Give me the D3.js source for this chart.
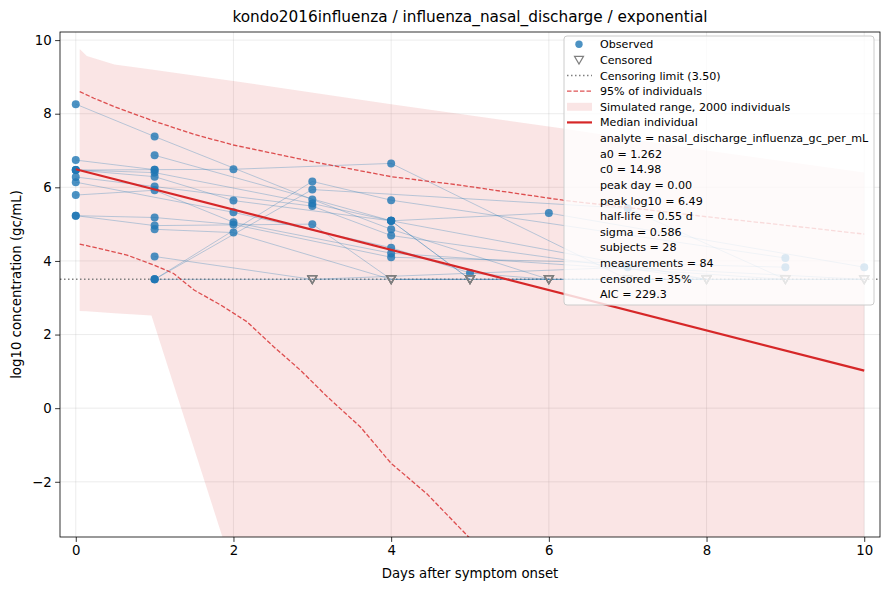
<!DOCTYPE html>
<html>
<head>
<meta charset="utf-8">
<script src="https://cdn.jsdelivr.net/npm/d3@7"></script>
<style>
    body { margin: 0; background: #fff; }
    svg { display: block; font-family: "DejaVu Sans", sans-serif; }
</style>
</head>
<body>
<svg id="chart" width="889" height="590"></svg>
<script>
// Viral load per subject, exponential decay fit.
// Censored values sit on the detection limit.

const censorLimit = 3.5;

// [day, log10 value, censored]
const subjects = [
    [[0, 8.26, 0], [1, 7.38, 0], [3, 5.67, 0], [4, 4.86, 0], [6, 3.5, 1]],
    [[0, 6.74, 0], [1, 6.48, 0], [2, 6.49, 0], [4, 6.65, 0], [7, 3.5, 1]],
    [[0, 6.47, 0], [1, 6.40, 0], [3, 5.56, 0], [4, 5.09, 0], [6, 5.30, 0], [10, 3.83, 0]],
    [[0, 6.47, 0], [1, 6.29, 0], [2, 5.64, 0], [4, 5.09, 0], [5, 3.5, 1]],
    [[0, 6.28, 0], [1, 6.02, 0], [3, 5.49, 0], [4, 4.69, 0], [8, 3.5, 1]],
    [[0, 6.14, 0], [2, 5.32, 0], [4, 4.36, 0], [5, 3.67, 0], [6, 3.5, 1]],
    [[0, 5.79, 0], [1, 5.92, 0], [2, 5.05, 0], [4, 4.21, 0], [9, 3.5, 1]],
    [[0, 5.23, 0], [1, 5.18, 0], [2, 4.99, 0], [4, 4.10, 0], [9, 3.83, 0]],
    [[0, 5.23, 0], [1, 4.96, 0], [3, 5.00, 0], [4, 3.5, 1], [5, 3.5, 1]],
    [[1, 6.87, 0], [4, 5.09, 0], [8, 3.5, 1]],
    [[1, 4.86, 0], [2, 4.77, 0], [4, 3.5, 1], [8, 3.5, 1]],
    [[1, 4.12, 0], [3, 3.5, 1], [7, 3.83, 0], [10, 3.5, 1]],
    [[1, 3.5, 0], [3, 5.94, 0], [7, 5.43, 0], [9, 3.5, 1]],
    [[1, 3.5, 0], [3, 6.16, 0], [4, 5.65, 0], [9, 4.08, 0]],
    [[0, 6.47, 0], [1, 6.48, 0]],
    [[4, 5.09, 0], [5, 3.5, 1]],
    [[1, 3.5, 0], [3, 3.5, 1]],
    [[4, 3.5, 1], [6, 3.5, 1]],
    [[3, 3.5, 1], [4, 3.5, 1]],
    [[5, 3.5, 1], [8, 3.5, 1]],
    [[6, 3.5, 1], [9, 3.5, 1]],
    [[8, 3.5, 1], [10, 3.5, 1]],
    [[9, 3.5, 1], [10, 3.5, 1]],
    [[5, 3.5, 1]],
    [[6, 3.5, 1]],
    [[10, 3.5, 1]],
    [[4, 3.5, 1]],
    [[3, 3.5, 1]],
];

// simulated envelope, 2000 individuals
const bandDays = [0.05, 0.14, 0.49, 0.96, 1.86, 2, 4, 6.18, 8, 10];
const bandUpper = [9.76, 9.57, 9.34, 9.2, 8.93, 8.89, 8.26, 7.6, 7.0, 6.4];
const bandLower = [2.64, 2.63, 2.58, 2.52, -3.5, -4.4, -6, -6, -6, -6];

const upper95 = [
    [0.05, 8.60], [0.23, 8.42], [0.49, 8.19], [0.99, 7.80], [1.5, 7.44],
    [2.0, 7.15], [2.51, 6.92], [3.02, 6.69], [4.0, 6.29], [4.87, 6.06],
    [6.18, 5.65], [7, 5.45], [8, 5.2], [9, 4.97], [10, 4.73],
];
const lower95 = [
    [0.05, 4.46], [0.65, 4.16], [0.99, 3.89], [1.24, 3.66], [1.5, 3.21],
    [1.84, 2.80], [2.17, 2.35], [2.51, 1.67], [2.85, 1.03], [3.19, 0.31],
    [3.61, -0.51], [4.0, -1.50], [4.45, -2.32], [4.96, -3.45], [5.3, -4.2],
];
const median = [[0, 6.49], [10, 1.02]];

const xTicks = [0, 2, 4, 6, 8, 10];
const yTicks = [-2, 0, 2, 4, 6, 8, 10];

const fitText = [
    'analyte = nasal_discharge_influenza_gc_per_mL',
    'a0 = 1.262',
    'c0 = 14.98',
    'peak day = 0.00',
    'peak log10 = 6.49',
    'half-life = 0.55 d',
    'sigma = 0.586',
    'subjects = 28',
    'measurements = 84',
    'censored = 35%',
    'AIC = 229.3',
];

const red = '#d62728';
const blue = '#1f77b4';
const grey = '#7f7f7f';

const svg = d3.select('#chart');
const margin = { top: 32, right: 9, bottom: 53, left: 60 };
const width = 889 - margin.left - margin.right;
const height = 590 - margin.top - margin.bottom;

const x = d3.scaleLinear().domain([-0.2, 10.2]).range([0, width]);
const y = d3.scaleLinear().domain([-3.5, 10.22]).range([height, 0]);

svg.append('defs').append('clipPath')
        .attr('id', 'plot-clip')
    .append('rect')
        .attr('width', width)
        .attr('height', height);

const g = svg.append('g')
    .attr('transform', `translate(${margin.left},${margin.top})`);

// grid
g.append('g').selectAll('line').data(xTicks)
    .enter().append('line')
        .attr('x1', d => x(d)).attr('x2', d => x(d))
        .attr('y1', 0).attr('y2', height)
        .attr('stroke', '#b0b0b0').attr('stroke-opacity', 0.3).attr('stroke-width', 0.8);
g.append('g').selectAll('line').data(yTicks)
    .enter().append('line')
        .attr('y1', d => y(d)).attr('y2', d => y(d))
        .attr('x1', 0).attr('x2', width)
        .attr('stroke', '#b0b0b0').attr('stroke-opacity', 0.3).attr('stroke-width', 0.8);

const plot = g.append('g').attr('clip-path', 'url(#plot-clip)');

const band = d3.area()
    .x((d, i) => x(bandDays[i]))
    .y0((d, i) => y(bandLower[i]))
    .y1((d, i) => y(bandUpper[i]));

plot.append('path')
    .datum(bandDays)
    .attr('d', band)
    .attr('fill', red)
    .attr('fill-opacity', 0.12);

const line = d3.line().x(d => x(d[0])).y(d => y(d[1]));

plot.append('line')
    .attr('x1', 0).attr('x2', width)
    .attr('y1', y(censorLimit)).attr('y2', y(censorLimit))
    .attr('stroke', grey)
    .attr('stroke-width', 1.5)
    .attr('stroke-dasharray', '1.5,2.5');

plot.append('g').selectAll('path').data(subjects.filter(s => s.length > 1))
    .enter().append('path')
        .attr('d', line)
        .attr('fill', 'none')
        .attr('stroke', blue)
        .attr('stroke-opacity', 0.3)
        .attr('stroke-width', 1);

const allPoints = subjects.flat();

plot.append('g').selectAll('circle').data(allPoints.filter(d => !d[2]))
    .enter().append('circle')
        .attr('cx', d => x(d[0]))
        .attr('cy', d => y(d[1]))
        .attr('r', 4)
        .attr('fill', blue)
        .attr('fill-opacity', 0.8);

const triangle = 'M-4.5,-3.6L4.5,-3.6L0,4.2Z';

plot.append('g').selectAll('path').data(allPoints.filter(d => d[2]))
    .enter().append('path')
        .attr('d', triangle)
        .attr('transform', d => `translate(${x(d[0])},${y(d[1])})`)
        .attr('fill', 'none')
        .attr('stroke', grey)
        .attr('stroke-width', 1.2);

plot.selectAll('.pi').data([upper95, lower95])
    .enter().append('path')
        .attr('class', 'pi')
        .attr('d', line)
        .attr('fill', 'none')
        .attr('stroke', red)
        .attr('stroke-opacity', 0.8)
        .attr('stroke-width', 1.3)
        .attr('stroke-dasharray', '4.5,2');

plot.append('path')
    .datum(median)
    .attr('d', line)
    .attr('fill', 'none')
    .attr('stroke', red)
    .attr('stroke-width', 2.2);

// axes
const xAxis = g.append('g')
    .attr('transform', `translate(0,${height})`)
    .call(d3.axisBottom(x).tickValues(xTicks).tickSize(4.9).tickPadding(3.5));
const yAxis = g.append('g')
    .call(d3.axisLeft(y).tickValues(yTicks).tickSize(4.9).tickPadding(3.5)
        .tickFormat(d => (d < 0 ? '\u2212' + Math.abs(d) : d)));

[xAxis, yAxis].forEach(a => {
    a.select('.domain').remove();
    a.selectAll('text').attr('font-size', 13.3).attr('fill', '#000')
        .attr('font-family', '"DejaVu Sans", sans-serif');
    a.selectAll('line').attr('stroke', '#000').attr('stroke-width', 0.8);
});

g.append('rect')
    .attr('width', width)
    .attr('height', height)
    .attr('fill', 'none')
    .attr('stroke', '#000')
    .attr('stroke-width', 0.8);

svg.append('text')
    .attr('x', margin.left + width / 2)
    .attr('y', 22)
    .attr('text-anchor', 'middle')
    .attr('font-size', 15.3)
    .text('kondo2016influenza / influenza_nasal_discharge / exponential');

svg.append('text')
    .attr('x', margin.left + width / 2)
    .attr('y', 578)
    .attr('text-anchor', 'middle')
    .attr('font-size', 13.3)
    .text('Days after symptom onset');

svg.append('text')
    .attr('transform', `translate(21,${margin.top + height / 2}) rotate(-90)`)
    .attr('text-anchor', 'middle')
    .attr('font-size', 13.3)
    .text('log10 concentration (gc/mL)');

// legend
const legend = svg.append('g').attr('transform', 'translate(564,36)');
legend.append('rect')
    .attr('width', 310)
    .attr('height', 269)
    .attr('rx', 3)
    .attr('fill', '#fff')
    .attr('fill-opacity', 0.8)
    .attr('stroke', '#cccccc')
    .attr('stroke-width', 1);

const rowY = i => 8.3 + i * 15.625;
const entries = [
    'Observed',
    'Censored',
    `Censoring limit (${censorLimit.toFixed(2)})`,
    '95% of individuals',
    'Simulated range, 2000 individuals',
    'Median individual',
].concat(fitText);

legend.selectAll('text').data(entries)
    .enter().append('text')
        .attr('x', 36)
        .attr('y', (d, i) => rowY(i) + 4)
        .attr('font-size', 11.1)
        .text(d => d);

legend.append('circle')
    .attr('cx', 15).attr('cy', rowY(0)).attr('r', 3.7)
    .attr('fill', blue).attr('fill-opacity', 0.8);
legend.append('path')
    .attr('d', triangle)
    .attr('transform', `translate(15,${rowY(1)})`)
    .attr('fill', 'none').attr('stroke', grey).attr('stroke-width', 1.2);
legend.append('line')
    .attr('x1', 3).attr('x2', 28).attr('y1', rowY(2)).attr('y2', rowY(2))
    .attr('stroke', grey).attr('stroke-width', 1.5).attr('stroke-dasharray', '1.5,2.5');
legend.append('line')
    .attr('x1', 3).attr('x2', 28).attr('y1', rowY(3)).attr('y2', rowY(3))
    .attr('stroke', red).attr('stroke-opacity', 0.8).attr('stroke-width', 1.3)
    .attr('stroke-dasharray', '4.5,2');
legend.append('rect')
    .attr('x', 3).attr('y', rowY(4) - 4).attr('width', 25).attr('height', 8)
    .attr('fill', red).attr('fill-opacity', 0.12);
legend.append('line')
    .attr('x1', 3).attr('x2', 28).attr('y1', rowY(5)).attr('y2', rowY(5))
    .attr('stroke', red).attr('stroke-width', 2.2);
</script>
</body>
</html>
